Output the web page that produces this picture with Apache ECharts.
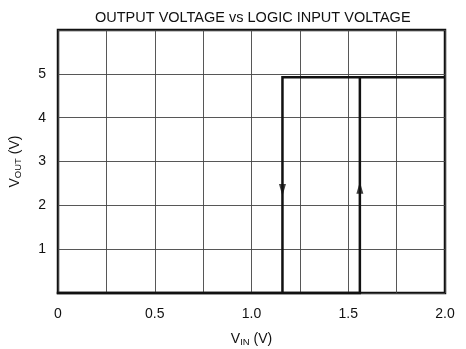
<!DOCTYPE html>
<html>
<head>
<meta charset="utf-8">
<script src="https://cdn.jsdelivr.net/npm/echarts@6/dist/echarts.min.js"></script>
<style>
  html, body { margin: 0; padding: 0; background: #fff; }
  #chart { width: 466px; height: 349px; }
</style>
</head>
<body>
<div id="chart"></div>
<script>
// Hysteresis of output voltage against logic input voltage
var xTickValues = [0, 0.5, 1.0, 1.5, 2.0];
var xTickLabels = ['0', '0.5', '1.0', '1.5', '2.0'];
var yTickValues = [1, 2, 3, 4, 5];
var yTickLabels = ['1', '2', '3', '4', '5'];

// switching thresholds and output levels (V)
var risingThreshold = 1.56;
var fallingThreshold = 1.16;
var outHigh = 4.92;
var outLow = 0;

// transfer path: rising edge, then falling edge
var vinPath = [0, risingThreshold, risingThreshold, 2.0, fallingThreshold, fallingThreshold];
var voutPath = [outLow, outLow, outHigh, outHigh, outHigh, outLow];

// direction arrows on the vertical transitions
var arrowVin = [fallingThreshold, risingThreshold];
var arrowVout = [2.35, 2.4];
var arrowRotate = [180, 0];

var font = 'Liberation Sans, Arial, Helvetica, sans-serif';

function labelFor(values, labels) {
  return function (v) {
    for (var i = 0; i < values.length; i++) {
      if (Math.abs(values[i] - v) < 1e-6) return labels[i];
    }
    return '';
  };
}

var nameRich = {
  v: { fontFamily: font, fontSize: 14, color: '#111', lineHeight: 18 },
  s: { fontFamily: font, fontSize: 9.5, color: '#111', lineHeight: 18, padding: [7, 0, 0, 0] }
};

var chart = echarts.init(document.getElementById('chart'), null, { renderer: 'canvas' });
chart.setOption({
  backgroundColor: '#fff',
  animation: false,
  title: {
    text: 'OUTPUT VOLTAGE vs LOGIC INPUT VOLTAGE',
    left: 90, top: 5,
    textStyle: { fontFamily: font, fontSize: 14.5, fontWeight: 'normal', color: '#111' }
  },
  grid: {
    left: 58, right: 21, top: 30, bottom: 56,
    containLabel: false, outerBoundsMode: 'none',
    show: true, borderColor: '#111', borderWidth: 2.5, backgroundColor: 'transparent'
  },
  xAxis: {
    type: 'value', min: 0, max: 2, interval: 0.25,
    name: '{v|V}{s|IN}{v| (V)}',
    nameLocation: 'middle', nameGap: 37,
    nameTextStyle: { rich: nameRich },
    axisLine: { show: false },
    axisTick: { show: false },
    axisLabel: {
      formatter: labelFor(xTickValues, xTickLabels),
      fontFamily: font, fontSize: 14, color: '#111', margin: 14
    },
    splitLine: { show: true, lineStyle: { color: '#444', width: 0.9 } }
  },
  yAxis: {
    type: 'value', min: 0, max: 6, interval: 1,
    name: '{v|V}{s|OUT}{v| (V)}',
    nameLocation: 'middle', nameGap: 34, nameRotate: 90,
    nameTextStyle: { rich: nameRich },
    axisLine: { show: false },
    axisTick: { show: false },
    axisLabel: {
      formatter: labelFor(yTickValues, yTickLabels),
      fontFamily: font, fontSize: 14, color: '#111', margin: 12
    },
    splitLine: { show: true, lineStyle: { color: '#444', width: 0.9 } }
  },
  series: [
    {
      type: 'line',
      data: vinPath.map(function (x, i) { return [x, voutPath[i]]; }),
      showSymbol: false, symbol: 'none', clip: false,
      lineStyle: { color: '#111', width: 2.5, join: 'miter', cap: 'square' },
      z: 3
    },
    {
      type: 'scatter',
      data: arrowVin.map(function (x, i) {
        return { value: [x, arrowVout[i]], symbolRotate: arrowRotate[i] };
      }),
      symbol: 'triangle', symbolSize: [7, 12],
      itemStyle: { color: '#111' },
      z: 4
    }
  ]
});
</script>
</body>
</html>
